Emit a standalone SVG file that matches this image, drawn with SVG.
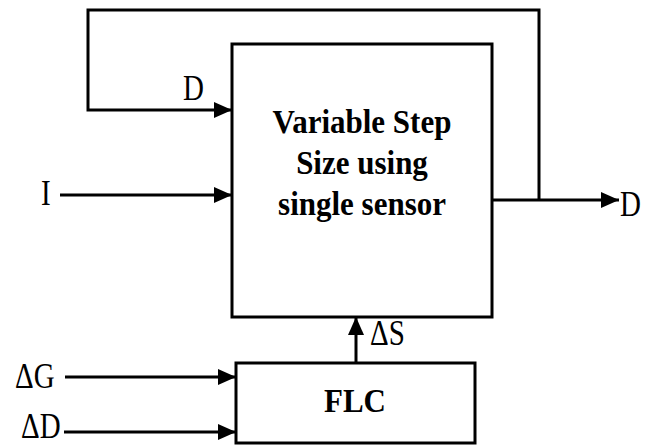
<svg xmlns="http://www.w3.org/2000/svg" width="652" height="446" viewBox="0 0 652 446">
<style>
.box{fill:#fff;stroke:#000;stroke-width:3}
.ln{fill:none;stroke:#000;stroke-width:3}
.title{font-weight:bold;font-size:31px;text-anchor:middle;fill:#000}
.lbl{font-size:29px;fill:#000}
</style>
<defs>
<marker id="ah" markerUnits="userSpaceOnUse" markerWidth="18" markerHeight="16" refX="18" refY="8" orient="auto">
<path d="M0,0 L18,8 L0,16 z" fill="#000"/>
</marker>
</defs>
<g id="connectors">
<polyline class="ln" points="539,200 539,10 88,10 88,110 232,110" marker-end="url(#ah)"/>
<line class="ln" x1="60" y1="195" x2="232" y2="195" marker-end="url(#ah)"/>
<line class="ln" x1="492" y1="200" x2="619" y2="200" marker-end="url(#ah)"/>
<line class="ln" x1="356" y1="363" x2="356" y2="317" marker-end="url(#ah)"/>
<line class="ln" x1="65" y1="377" x2="236" y2="377" marker-end="url(#ah)"/>
<line class="ln" x1="64" y1="432" x2="236" y2="432" marker-end="url(#ah)"/>
</g>
<g font-family="'Liberation Serif', 'DejaVu Serif', serif">
<g id="main">
<rect class="box" x="232" y="44" width="260" height="273"/>
<text class="title" transform="translate(362,133) scale(1,1.08)">Variable Step</text>
<text class="title" transform="translate(362,174) scale(1,1.08)">Size using</text>
<text class="title" transform="translate(362,215) scale(1,1.08)">single sensor</text>
</g>
<g id="flc">
<rect class="box" x="236" y="363" width="239" height="80"/>
<text class="title" transform="translate(355,412) scale(1,1.08)">FLC</text>
</g>
<g id="labels">
<text class="lbl" transform="translate(183,100) scale(1,1.25)">D</text>
<text class="lbl" transform="translate(41,205) scale(1,1.25)">I</text>
<text class="lbl" transform="translate(620,216) scale(1,1.25)">D</text>
<text class="lbl" transform="translate(370,345) scale(1,1.25)">ΔS</text>
<text class="lbl" transform="translate(15,388) scale(1,1.25)">ΔG</text>
<text class="lbl" transform="translate(21,438) scale(1,1.2)">ΔD</text>
</g>
</g>
</svg>
